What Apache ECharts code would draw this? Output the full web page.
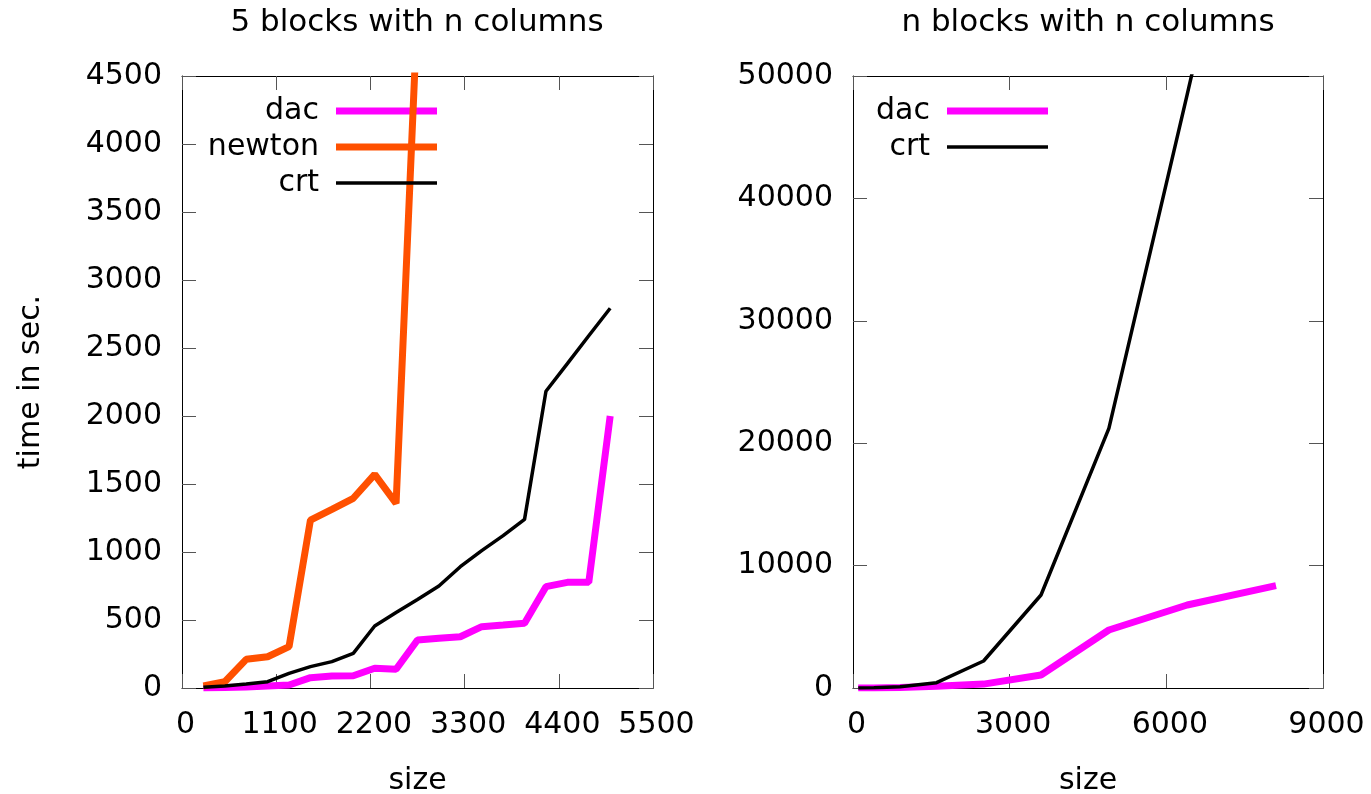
<!DOCTYPE html>
<html><head><meta charset="utf-8">
<script src="https://cdn.jsdelivr.net/npm/echarts@6/dist/echarts.min.js"></script>
<style>html,body{margin:0;padding:0;background:#fff}#c{width:1371px;height:794px}</style>
</head><body><div id="c"></div>
<script>
const leftTitle = '5 blocks with n columns';
const rightTitle = 'n blocks with n columns';
const xName = 'size';
const yName = 'time in sec.';

const leftSizes  = [250,500,750,1000,1250,1500,1750,2000,2250,2500,2750,3000,3250,3500,3750,4000,4250,4500,4750,5000];
const leftDac    = [0,3,8,15,22,76,88,90,145,138,353,365,377,451,463,476,745,777,777,2000];
const leftNewton = [15,46,211,230,304,1235,1314,1395,1571,1358,5000];
const leftCrt    = [5,15,30,46,108,157,194,255,456,555,650,750,892,1010,1120,1240,2182,2385,2590,2792];

const rightSizes = [100,400,900,1600,2500,3600,4900,6400,8100];
const rightDac   = [0,10,50,150,320,1060,4740,6780,8360];
const rightCrt   = [0,30,106,435,2206,7598,21217,48500,80000];

const leftXAxis  = {min:0, max:5500, interval:1100};
const leftYAxis  = {min:0, max:4500, interval:500};
const rightXAxis = {min:0, max:9000, interval:3000};
const rightYAxis = {min:0, max:50000, interval:10000};

const COL = {dac:'#ff00ff', newton:'#ff5000', crt:'#000000'};
const FONT = 'DejaVu Sans';
const FS = 30;

function zip(xs, ys){ return ys.map((y,i)=>[xs[i], y]); }

function axisPair(range, kind, gridIndex, showName, name, nameGap){
  const common = {
    type:'value', gridIndex, min:range.min, max:range.max, interval:range.interval,
    splitLine:{show:false},
    axisLine:{show:true, onZero:false, lineStyle:{color:'#000', width:1}},
    axisTick:{show:true, inside:true, length:14, lineStyle:{color:'#555', width:1}},
  };
  const main = Object.assign({}, common, {
    position: kind==='x' ? 'bottom' : 'left',
    axisLabel:{show:true, fontFamily:FONT, fontSize:FS, color:'#000', margin: kind==='x'?22:20,
      padding: kind==='x' ? [0,0,0,7] : [6,0,0,0],
      formatter:(v)=>String(v)},
  });
  if (showName){
    Object.assign(main, {name, nameLocation:'middle', nameGap,
      nameTextStyle:{fontFamily:FONT, fontSize:FS, color:'#000'}});
  }
  const mirror = Object.assign({}, common, {
    position: kind==='x' ? 'top' : 'right',
    axisLabel:{show:false},
  });
  return [main, mirror];
}

function legendItem(name, right, top, iconH, z){
  return {
    data:[{name, icon:'rect'}], orient:'vertical', align:'right',
    right, top, padding:0, itemWidth:101, itemHeight:iconH, z,
    selectedMode:false,
    textStyle:{fontFamily:FONT, fontSize:FS, color:'#000', padding:[0,12,0,0]},
  };
}

const [lxA, lxB] = axisPair(leftXAxis,'x',0,true,xName,78);
const [rxA, rxB] = axisPair(rightXAxis,'x',1,true,xName,78);
const [lyA, lyB] = axisPair(leftYAxis,'y',0,true,yName,136);
const [ryA, ryB] = axisPair(rightYAxis,'y',1,false);

function lineSeries(name, data, xi, yi, width, z){
  return {type:'line', name, data, xAxisIndex:xi, yAxisIndex:yi, showSymbol:false,
    symbol:'none', z, clip:true, animation:false,
    lineStyle:{color:COL[name], width}, itemStyle:{color:COL[name]}};
}

const titleStyle = {fontFamily:FONT, fontSize:31, fontWeight:'normal', color:'#000'};
const option = {
  animation:false,
  backgroundColor:'#fff',
  title:[
    {text:leftTitle, left:417, top:7, padding:0, textAlign:'center', textStyle:titleStyle},
    {text:rightTitle, left:1088, top:7, padding:0, textAlign:'center', textStyle:titleStyle},
  ],
  grid:[
    {left:182, right:1371-653, top:76, bottom:794-688, containLabel:false, outerBoundsMode:'none'},
    {left:853, right:1371-1323, top:76, bottom:794-688, containLabel:false, outerBoundsMode:'none'},
  ],
  xAxis:[lxA, lxB, rxA, rxB],
  yAxis:[lyA, lyB, ryA, ryB],
  legend:[
    legendItem('dac', 1371-437, 109-13, 7, 3),
    legendItem('newton', 1371-437, 145-13, 7, 5),
    legendItem('crt', 1371-437, 181-13, 3.5, 7),
    legendItem('dac', 1371-1048, 109-13, 7, 3),
    legendItem('crt', 1371-1048, 145-13, 3.5, 7),
  ],
  series:[
    lineSeries('dac', zip(leftSizes,leftDac), 0, 0, 7, 2),
    lineSeries('newton', zip(leftSizes,leftNewton), 0, 0, 7, 4),
    lineSeries('crt', zip(leftSizes,leftCrt), 0, 0, 3.5, 6),
    lineSeries('dac', zip(rightSizes,rightDac), 2, 2, 7, 2),
    lineSeries('crt', zip(rightSizes,rightCrt), 2, 2, 3.5, 6),
  ],
};
option.xAxis[1].gridIndex = 0; option.xAxis[3].gridIndex = 1;
option.yAxis[1].gridIndex = 0; option.yAxis[3].gridIndex = 1;
option.xAxis[2].gridIndex = 1; option.yAxis[2].gridIndex = 1;

const chart = echarts.init(document.getElementById('c'), null, {renderer:'canvas'});
chart.setOption(option);
</script></body></html>
